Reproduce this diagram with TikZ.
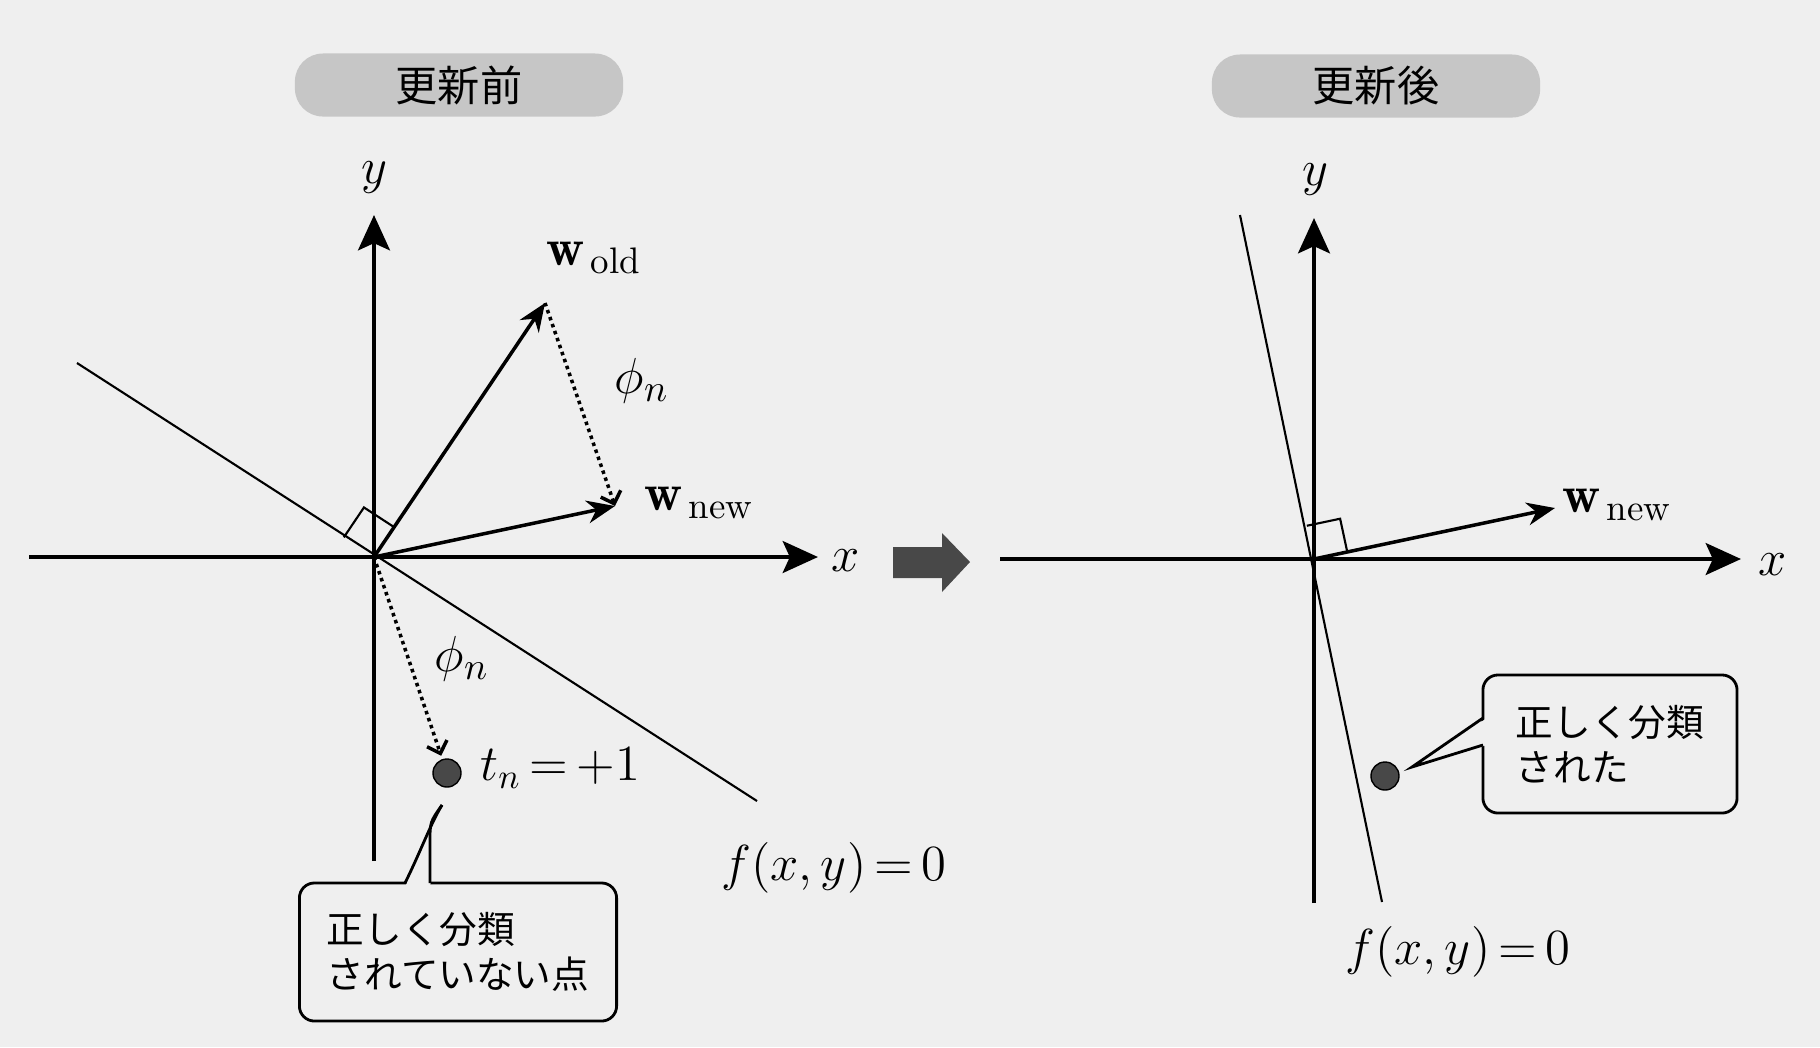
\documentclass[tikz,border=0pt]{standalone}
\usepackage{fontspec}
\newfontfamily\jp{Noto Sans CJK JP}
\usetikzlibrary{arrows.meta, angles, calc}

\definecolor{paper}{RGB}{239,239,239}
\definecolor{tabgray}{RGB}{198,198,198}
\definecolor{inkgray}{RGB}{72,72,72}

\tikzset{
  axisline/.style={line width=1.4pt, -{Stealth[length=10pt, width=9pt, inset=2pt]}},
  vec/.style={line width=1pt, -{Stealth[length=8pt, width=6.5pt]}},
  dotarrow/.style={line width=1pt, dash pattern=on 1pt off 1.1pt, -{Straight Barb[length=3pt, width=6pt]}},
  boundary/.style={line width=0.6pt},
  titletab/.style={fill=tabgray, rounded corners=0.28cm, minimum width=3.28cm, minimum height=0.63cm, font=\jp\fontsize{12}{14}\selectfont},
  notebox/.style={draw, line width=0.8pt, rounded corners=0.15cm, fill=paper, align=left, font=\jp\fontsize{10.7}{12.8}\selectfont},
  mlabel/.style={font=\fontsize{14}{16}\selectfont},
  vlabel/.style={font=\fontsize{15}{17}\selectfont},
  datapt/.style={circle, fill=inkgray, draw=black, line width=0.4pt, inner sep=0pt, minimum size=0.28cm},
}

\begin{document}
\begin{tikzpicture}[x=0.01cm, y=-0.01cm]
  \fill[paper] (0,0) rectangle (1820,1047);
  \useasboundingbox (0,0) rectangle (1820,1047);
  %
  % before the update
  \node[titletab] (before) at (459,85) {更新前};
  \coordinate (o) at (374,557);
  \coordinate (xl) at (29,557);
  \coordinate (xr) at (818,557);
  \coordinate (yb) at (374,861);
  \coordinate (yt) at (374,215);
  \draw[axisline] (xl) -- (xr);
  \draw[axisline] (yb) -- (yt);
  \node[mlabel] (xlab) at (846,561) {$x$};
  \node[mlabel] (ylab) at (374,178) {$y$};
  %
  \coordinate (lu) at (77,363);
  \coordinate (ld) at (757,801);
  \draw[boundary] (lu) -- (ld);
  \node[mlabel] (flab) at (834,868) {$f(x,y)\,{=}\,0$};
  %
  \coordinate (wo) at (545,303);
  \coordinate (wn) at (615,506);
  \draw[vec] (o) -- (wo);
  \draw[vec] (o) -- (wn);
  \draw[dotarrow] (wo) -- (wn);
  \pic[draw, boundary, angle radius=0.36cm] {right angle = lu--o--wo};
  \node[vlabel] (wolab) at (594,258) {$\mathbf{w}_{\,\mathrm{old}}$};
  \node[vlabel] (wnlab) at (699,503) {$\mathbf{w}_{\,\mathrm{new}}$};
  \node[vlabel] (phia) at (642,381) {$\phi_n$};
  %
  \node[datapt] (p1) at (447,773) {};
  \draw[dotarrow, shorten >=1pt] (o) -- (p1);
  \node[vlabel] (phib) at (462,659) {$\phi_n$};
  \node[mlabel, anchor=west] (tlab) at (468,768) {$t_n\,{=}\,{+}1$};
  %
  \node[notebox, minimum width=3.17cm, minimum height=1.38cm] (miss) at (458,952) {正しく分類\\されていない点};
  \coordinate (ma) at (405,883);
  \coordinate (mb) at (430,883);
  \coordinate (mt) at (442,805);
  \fill[paper] ($(ma)+(0,4)$) -- (mt) -- ($(mb)+(0,4)$) -- cycle;
  \draw[line width=0.8pt] (ma) .. controls (420,853) and (430,825) .. (mt);
  \draw[line width=0.8pt] (mb) -- (430,842) .. controls (430,822) .. (mt);
  %
  % arrow between the panels
  \fill[inkgray] (893,547) -- (942,547) -- (942,533) -- (970,562) -- (942,592) -- (942,578) -- (893,578) -- cycle;
  %
  % after the update
  \node[titletab] (after) at (1376,86) {更新後};
  \coordinate (o2) at (1314,559);
  \coordinate (xl2) at (1000,559);
  \coordinate (xr2) at (1741,559);
  \coordinate (yb2) at (1314,903);
  \coordinate (yt2) at (1314,218);
  \draw[axisline] (xl2) -- (xr2);
  \draw[axisline] (yb2) -- (yt2);
  \node[mlabel] (xlab2) at (1773,565) {$x$};
  \node[mlabel] (ylab2) at (1315,180) {$y$};
  %
  \coordinate (ru) at (1240,215);
  \coordinate (rd) at (1382,902);
  \draw[boundary] (ru) -- (rd);
  \node[mlabel] (flab2) at (1458,952) {$f(x,y)\,{=}\,0$};
  %
  \coordinate (wn2) at (1555,508);
  \draw[vec] (o2) -- (wn2);
  \pic[draw, boundary, angle radius=0.34cm] {right angle = ru--o2--wn2};
  \node[vlabel] (wnlab2) at (1617,505) {$\mathbf{w}_{\,\mathrm{new}}$};
  %
  \node[datapt] (p2) at (1385,776) {};
  \node[notebox, minimum width=2.54cm, minimum height=1.38cm] (hit) at (1610,744) {正しく分類\\された};
  \coordinate (ha) at (1483,718);
  \coordinate (hb) at (1483,745);
  \coordinate (ht) at (1412,767);
  \fill[paper] ($(ha)+(4,0)$) -- (ht) -- ($(hb)+(4,0)$) -- cycle;
  \draw[line width=0.8pt] (ha) -- (ht) -- (hb);
\end{tikzpicture}
\end{document}
